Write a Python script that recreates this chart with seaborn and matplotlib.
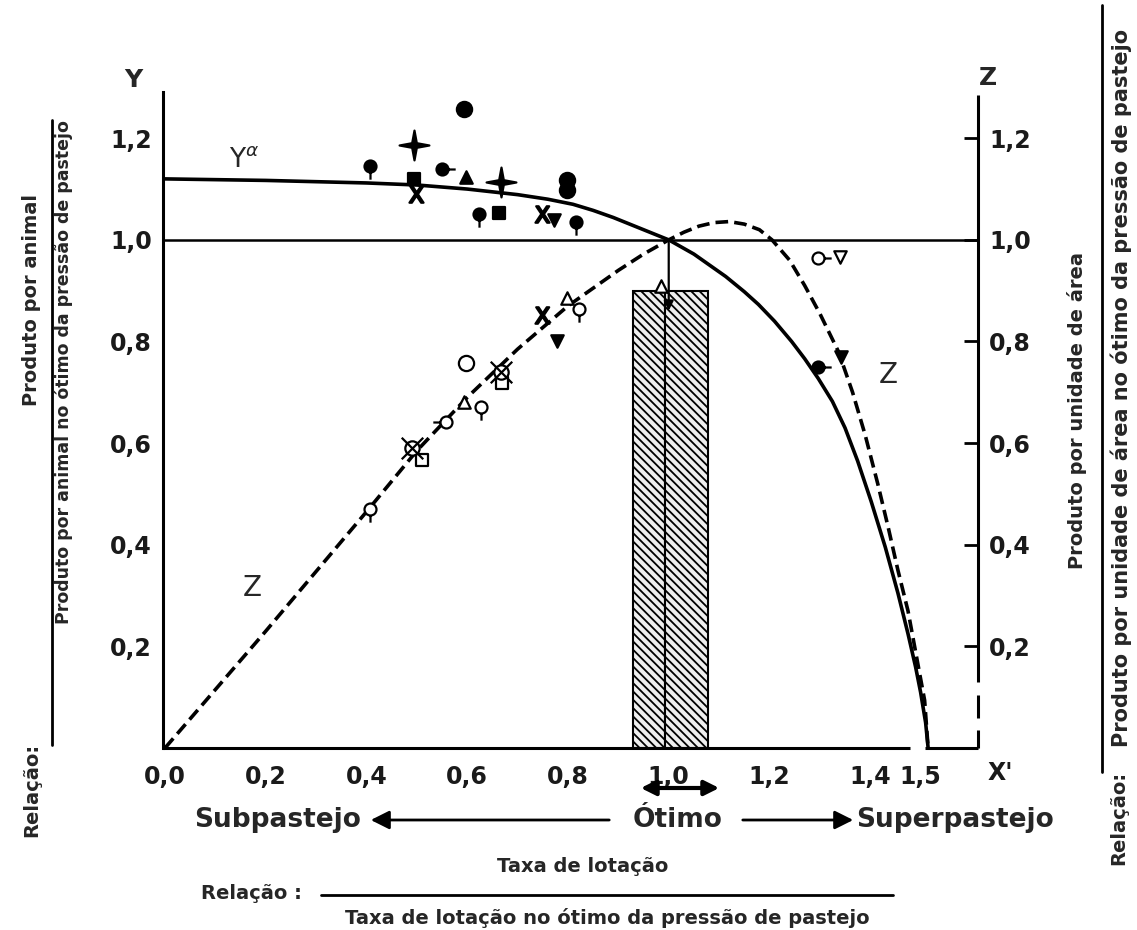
import numpy as np
import matplotlib
matplotlib.use("Agg")
import matplotlib.pyplot as plt
from matplotlib.path import Path
from matplotlib.ticker import FuncFormatter
import seaborn as sns

# curva Y (produto por animal)
y_curve_x = [0.0, 0.2, 0.4, 0.5, 0.6, 0.7, 0.76, 0.81, 0.85, 0.89, 0.93, 0.97, 1.0, 1.05,
             1.113, 1.15, 1.178, 1.21, 1.244, 1.27, 1.297, 1.325, 1.35, 1.375, 1.402, 1.43,
             1.455, 1.475, 1.49, 1.50, 1.51, 1.515]
y_curve_y = [1.12, 1.117, 1.112, 1.108, 1.10, 1.089, 1.08, 1.07, 1.058, 1.044, 1.028, 1.012,
             1.0, 0.972, 0.928, 0.898, 0.873, 0.84, 0.80, 0.766, 0.727, 0.682, 0.63, 0.565,
             0.485, 0.395, 0.305, 0.225, 0.16, 0.11, 0.05, 0.0]

# curva Z (produto por unidade de area)
z_curve_x = [0.0, 0.2, 0.4, 0.5, 0.6, 0.7, 0.8, 0.9, 0.95, 1.0, 1.03, 1.06, 1.09, 1.12,
             1.15, 1.18, 1.205, 1.24, 1.27, 1.30, 1.337, 1.365, 1.39, 1.415, 1.436, 1.455,
             1.475, 1.49, 1.508, 1.515]
z_curve_y = [0.0, 0.23, 0.465, 0.585, 0.69, 0.785, 0.87, 0.94, 0.972, 1.0, 1.015, 1.027,
             1.034, 1.036, 1.031, 1.02, 1.0, 0.96, 0.91, 0.855, 0.78, 0.70, 0.616, 0.52,
             0.433, 0.35, 0.27, 0.19, 0.094, 0.0]

# pontos observados
pts_x = [0.406, 0.495, 0.495, 0.499, 0.594, 0.55, 0.598, 0.667, 0.624, 0.663, 0.748, 0.772,
         0.816, 0.798, 0.798, 1.297, 1.343,
         1.297, 1.34, 0.406, 0.491, 0.511, 0.558, 0.594, 0.628, 0.598, 0.667, 0.669,
         0.749, 0.778, 0.798, 0.822, 0.985]
pts_y = [1.145, 1.186, 1.119, 1.09, 1.257, 1.14, 1.123, 1.113, 1.05, 1.053, 1.05, 1.04,
         1.036, 1.118, 1.098, 0.749, 0.77,
         0.965, 0.967, 0.471, 0.59, 0.566, 0.642, 0.681, 0.671, 0.758, 0.74, 0.719,
         0.853, 0.80, 0.885, 0.863, 0.91]
pts_kind = ["pin_down", "star4", "square", "xmark", "circle", "pin_right", "tri_up", "star4",
            "pin_down", "square", "xmark", "tri_down", "pin_down", "circle", "circle",
            "pin_right", "tri_down",
            "pin_right", "tri_down", "pin_down", "xcircle", "square", "pin_left", "tri_up",
            "pin_down", "circle", "xcircle", "square", "xmark", "tri_down", "tri_up",
            "pin_down", "tri_up"]
pts_filled = [True] * 17 + [False] * 12 + [True, False, False, False]

# faixa otima (barra hachurada)
opt_edges = [0.93, 0.992, 1.077]
opt_height = 0.90

x_ticks = [0.0, 0.2, 0.4, 0.6, 0.8, 1.0, 1.2, 1.4, 1.5]
y_ticks = [0.2, 0.4, 0.6, 0.8, 1.0, 1.2]


def pin(dx, dy):
    stem = Path([[dx, dy], [2.2 * dx, 2.2 * dy]], [Path.MOVETO, Path.LINETO])
    return Path.make_compound_path(Path.unit_circle(), stem)


ang = np.arange(8) * np.pi / 4
rad = np.where(np.arange(8) % 2 == 0, 1.0, 0.22)
star4 = Path(np.c_[rad * np.sin(ang), rad * np.cos(ang)].tolist() + [[0, 1]], closed=True)
xcircle = Path.make_compound_path(
    Path.unit_circle(),
    Path([[-1.5, -1.5], [1.5, 1.5]], [Path.MOVETO, Path.LINETO]),
    Path([[-1.5, 1.5], [1.5, -1.5]], [Path.MOVETO, Path.LINETO]))

markers = {
    "pin_down": (pin(0, -1), 360), "pin_right": (pin(1, 0), 360), "pin_left": (pin(-1, 0), 360),
    "star4": (star4, 460), "square": ("s", 85), "xmark": ("$\\mathsf{X}$", 140),
    "circle": ("o", 120), "tri_up": ("^", 80), "tri_down": ("v", 80), "xcircle": (xcircle, 240),
}

sns.set_theme(style="white")
plt.rcParams["font.family"] = ["DejaVu Sans"]
plt.rcParams["hatch.linewidth"] = 1.3

fig = plt.figure(figsize=(11.37, 9.3), dpi=100)
W, H = 1137, 930
ax = fig.add_axes([163 / W, 1 - 748 / H, (978 - 163) / W, (748 - 92) / H])
xmin, xmax, ymax = -0.004, 1.614, 1.291
ax.set_xlim(xmin, xmax)
ax.set_ylim(0, ymax)

# barras do otimo
ax.bar(opt_edges[:-1], [opt_height, opt_height], width=np.diff(opt_edges), align="edge",
       facecolor="#eeeeee", edgecolor="black", linewidth=1.5, hatch="\\\\\\\\", zorder=2)

ax.axhline(1.0, color="black", lw=1.8, zorder=3)
sns.lineplot(x=y_curve_x, y=y_curve_y, ax=ax, color="black", lw=2.6, sort=False,
             estimator=None, zorder=4)
sns.lineplot(x=z_curve_x, y=z_curve_y, ax=ax, color="black", lw=2.6, sort=False,
             estimator=None, zorder=4, linestyle=(0, (3.5, 1.7)))

ax.annotate("", xy=(1.0, 0.855), xytext=(1.0, 1.0),
            arrowprops=dict(arrowstyle="-|>", color="black", lw=1.6, mutation_scale=14), zorder=5)

for kind in markers:
    for filled in (True, False):
        sel = [i for i in range(len(pts_x)) if pts_kind[i] == kind and pts_filled[i] == filled]
        if not sel:
            continue
        m, s = markers[kind]
        fc = "black" if filled else "white"
        if kind == "xmark":
            fc = "black"
        sns.scatterplot(x=[pts_x[i] for i in sel], y=[pts_y[i] for i in sel], ax=ax,
                        marker=m, s=s, facecolor=fc, edgecolor="black", linewidth=1.6,
                        zorder=6, clip_on=False)

# eixos
for side in ["top", "right", "bottom"]:
    ax.spines[side].set_visible(False)
ax.spines["left"].set_linewidth(2.2)
ax.spines["left"].set_color("black")
kw = dict(color="black", lw=2.2, clip_on=False, zorder=7, solid_capstyle="butt")
ax.plot([xmin, 1.479], [0, 0], **kw)
ax.plot([1.509, xmax], [0, 0], **kw)
ax.plot([xmax, xmax], [0.13, 1.285], **kw)
ax.plot([xmax, xmax], [0.059, 0.104], **kw)
ax.plot([xmax, xmax], [0.0, 0.035], **kw)

comma = FuncFormatter(lambda v, p: f"{v:.1f}".replace(".", ","))
ax.set_xticks(x_ticks)
ax.set_yticks(y_ticks)
ax.xaxis.set_major_formatter(comma)
ax.yaxis.set_major_formatter(comma)
ax.tick_params(axis="both", direction="in", length=10, width=2, color="black",
               labelsize=17, labelcolor="#1a1a1a")
ax.tick_params(axis="x", pad=12)
ax.tick_params(axis="y", pad=8, right=True, labelright=True)
for lab in ax.get_xticklabels() + ax.get_yticklabels():
    lab.set_fontweight("bold")
for t in (ax.xaxis.get_major_ticks()[0], ax.xaxis.get_major_ticks()[-1]):
    t.tick1line.set_visible(False)

# textos dentro do grafico
ax.text(0.158, 1.158, r"Y$^{\alpha}$", fontsize=19, ha="center", va="center")
ax.text(0.174, 0.315, "Z", fontsize=20, ha="center", va="center")
ax.text(1.436, 0.735, "Z", fontsize=20, ha="center", va="center")


def ftext(px, py, s, **k):
    fig.text(px / W, 1 - py / H, s, ha="center", va="center", **k)


ftext(133, 80, "Y", fontsize=18, fontweight="bold")
ftext(988, 78, "Z", fontsize=18, fontweight="bold")
ftext(1000, 773, "X'", fontsize=17, fontweight="bold", color="#1a1a1a")

# setas abaixo do eixo x
arr = dict(xycoords="figure pixels", textcoords="figure pixels")
ax.annotate("", xy=(638, H - 788), xytext=(722, H - 788),
            arrowprops=dict(arrowstyle="<|-|>", color="black", lw=3, mutation_scale=22), **arr)
ftext(278, 820, "Subpastejo", fontsize=19, fontweight="bold")
ftext(678, 820, "Ótimo", fontsize=19, fontweight="bold")
ftext(955, 820, "Superpastejo", fontsize=19, fontweight="bold")
ax.annotate("", xy=(368, H - 820), xytext=(612, H - 820),
            arrowprops=dict(arrowstyle="-|>", color="black", lw=2, mutation_scale=28), **arr)
ax.annotate("", xy=(856, H - 820), xytext=(740, H - 820),
            arrowprops=dict(arrowstyle="-|>", color="black", lw=2, mutation_scale=28), **arr)

ftext(583, 866, "Taxa de lotação", fontsize=14, fontweight="bold")
ftext(251, 893, "Relação :", fontsize=14, fontweight="bold")
fig.add_artist(plt.Line2D([321 / W, 893 / W], [1 - 895 / H, 1 - 895 / H], color="black", lw=2))
ftext(607, 918, "Taxa de lotação no ótimo da pressão de pastejo", fontsize=14, fontweight="bold")

# rotulo vertical esquerdo
ftext(32, 300, "Produto por animal", fontsize=14, rotation=90, fontweight="bold")
fig.add_artist(plt.Line2D([52 / W, 52 / W], [1 - 120 / H, 1 - 745 / H], color="black", lw=2))
ftext(64, 372, "Produto por animal no ótimo da pressão de pastejo", fontsize=12.5,
      rotation=90, fontweight="bold")
ftext(32, 790, "Relação:", fontsize=14, rotation=90, fontweight="bold")

# rotulo vertical direito
ftext(1077, 410, "Produto por unidade de área", fontsize=14, rotation=90, fontweight="bold")
fig.add_artist(plt.Line2D([1102 / W, 1102 / W], [1 - 5 / H, 1 - 772 / H], color="black", lw=2))
ftext(1121, 388, "Produto por unidade de área no ótimo da pressão de pastejo", fontsize=15,
      rotation=90, fontweight="bold")
ftext(1119, 818, "Relação:", fontsize=14, rotation=90, fontweight="bold")

fig.savefig("out.png", dpi=100, facecolor="white")
